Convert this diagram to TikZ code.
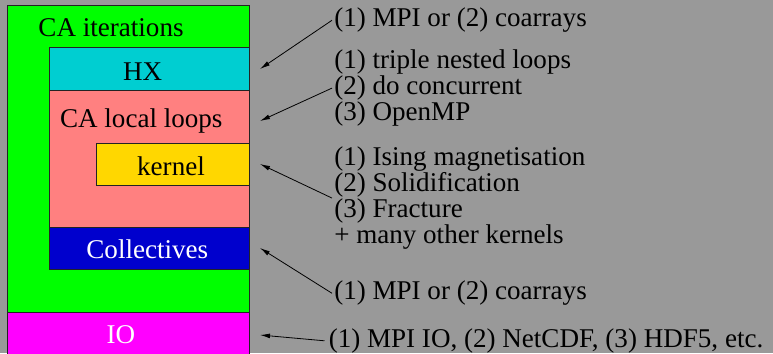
\documentclass[tikz,border=0pt]{standalone}
\usepackage{fontspec}
\setmainfont{Liberation Serif}
\usetikzlibrary{arrows.meta}
\usepackage{xcolor}

\definecolor{bggray}{RGB}{153,153,153}
\definecolor{itergreen}{RGB}{0,255,0}
\definecolor{hxcyan}{RGB}{0,206,209}
\definecolor{loopsalmon}{RGB}{255,128,128}
\definecolor{kernelgold}{RGB}{255,215,0}
\definecolor{collblue}{RGB}{0,0,205}
\definecolor{iomagenta}{RGB}{255,0,255}
\definecolor{edgegray}{RGB}{35,35,35}

\tikzset{
  blk/.style={draw=edgegray, line width=0.75pt},
  lbl/.style={anchor=base, inner sep=0pt},
  note/.style={anchor=north west, inner sep=1.5pt, align=left},
  ptr/.style={-{Latex[length=7.5pt,width=3.6pt]}, line width=0.6pt},
}

\begin{document}
\fontsize{20.3pt}{19.4pt}\selectfont
\begin{tikzpicture}[x=0.75pt,y=0.75pt,yscale=-1]
        \useasboundingbox (0,0) rectangle (773,353);
        \fill[bggray] (0,0) rectangle (773,353);

        %Shape: Rectangle [CA iterations]
        \filldraw[blk, fill=itergreen] (7,5.5) rectangle (249,312);
        %Shape: Rectangle [HX]
        \filldraw[blk, fill=hxcyan] (49,48) rectangle (249,90);
        %Shape: Rectangle [CA local loops]
        \filldraw[blk, fill=loopsalmon] (49,90) rectangle (249,227);
        %Shape: Rectangle [kernel]
        \filldraw[blk, fill=kernelgold] (96.5,143) rectangle (249,185);
        %Shape: Rectangle [Collectives]
        \filldraw[blk, fill=collblue] (49,227) rectangle (249,269);
        %Shape: Rectangle [IO]
        \filldraw[blk, fill=iomagenta] (7,312) rectangle (249,358);

        % Text Node
        \node[lbl] (iterlbl) at (111,37) {CA iterations};
        % Text Node
        \node[lbl] (hxlbl) at (142.7,80) {HX};
        % Text Node
        \node[lbl] (looplbl) at (141.3,127) {CA local loops};
        % Text Node
        \node[lbl] (kernellbl) at (171,175) {kernel};
        % Text Node
        \node[lbl, text=white] (colllbl) at (147.3,258.3) {Collectives};
        % Text Node
        \node[lbl, text=white] (iolbl) at (121,343.3) {IO};

        % Text Node
        \node[note] (iternote) at (332,5.7) {(1) MPI or (2) coarrays};
        % Text Node
        \node[note] (loopnote) at (332,47.7) {(1) triple nested loops\\(2) do concurrent\\(3) OpenMP};
        % Text Node
        \node[note] (kernelnote) at (332,144.7) {(1) Ising magnetisation\\(2) Solidification\\(3) Fracture\\+ many other kernels};
        % Text Node
        \node[note] (collnote) at (332,278.7) {(1) MPI or (2) coarrays};
        % Text Node
        \node[lbl, anchor=base west] (ionote) at (328.5,347.3) {(1) MPI IO, (2) NetCDF, (3) HDF5, etc.};

        % arrow ends, just right of the boxes
        \coordinate (hxend) at (260,69);
        \coordinate (loopend) at (260,121);
        \coordinate (kernelend) at (260,164);
        \coordinate (collend) at (260,248);
        \coordinate (ioend) at (260,335);

        \draw[ptr] (iternote.west) -- (hxend);
        \draw[ptr] (loopnote.west) -- (loopend);
        \draw[ptr] (kernelnote.west) -- (kernelend);
        \draw[ptr] (collnote.west) -- (collend);
        \draw[ptr] ([xshift=-3pt]ionote.west) -- (ioend);

\end{tikzpicture}
\end{document}
